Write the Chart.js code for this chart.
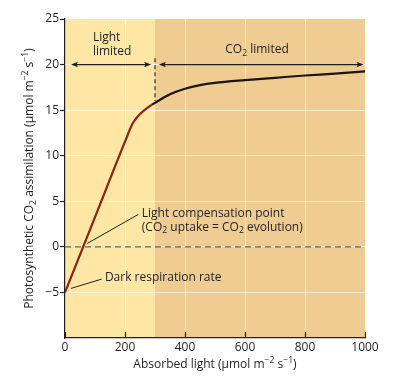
<!DOCTYPE html>
<html>
<head>
<meta charset="utf-8">
<script src="https://cdn.jsdelivr.net/npm/chart.js@4.4.0/dist/chart.umd.min.js"></script>
<style>
  html, body { margin: 0; padding: 0; background: #fff; }
</style>
</head>
<body>
<canvas id="lightChart" width="399" height="377"></canvas>
<script>
// light response curve
const lightLimitedX = [0, 100, 200, 225, 245, 265, 290];
const lightLimitedY = [-5, 3.27, 11.54, 13.5, 14.4, 15.0, 15.6];
const co2LimitedX = [290, 320, 350, 400, 450, 500, 600, 700, 800, 900, 1000];
const co2LimitedY = [15.6, 16.2, 16.75, 17.35, 17.75, 18.0, 18.3, 18.55, 18.8, 19.0, 19.25];
const zeroLineX = [0, 1000];
const zeroLineY = [0, 0];
const boundaryX = [300, 300];
const boundaryY = [20.7, 16.0];
const regionBounds = [0, 300, 1000];
const xTicks = [0, 200, 400, 600, 800, 1000];
const yTicks = [-10, -5, 0, 5, 10, 15, 20, 25];

const FONT = '"Open Sans", "DejaVu Sans", sans-serif';
const INK = '#231f20';

function pts(xs, ys) {
  return xs.map((v, i) => ({ x: v, y: ys[i] }));
}

// text with sub/superscript pieces, y is the vertical middle
function drawRich(ctx, parts, x, y, size, align) {
  const small = size * 0.72;
  let total = 0;
  for (const [t, m] of parts) {
    ctx.font = (m ? small : size) + 'px ' + FONT;
    total += ctx.measureText(t).width;
  }
  let cx = align === 'center' ? x - total / 2 : x;
  ctx.textBaseline = 'middle';
  ctx.textAlign = 'left';
  for (const [t, m] of parts) {
    ctx.font = (m ? small : size) + 'px ' + FONT;
    const dy = m === 'sub' ? size * 0.3 : m === 'sup' ? -size * 0.36 : 0;
    ctx.fillText(t, cx, y + dy);
    cx += ctx.measureText(t).width;
  }
}

function head(ctx, tipX, y, dir) {
  ctx.beginPath();
  ctx.moveTo(tipX, y);
  ctx.lineTo(tipX - dir * 7, y - 2.8);
  ctx.lineTo(tipX - dir * 5.5, y);
  ctx.lineTo(tipX - dir * 7, y + 2.8);
  ctx.closePath();
  ctx.fill();
}

function arrow(ctx, x1, x2, y) {
  ctx.beginPath();
  ctx.moveTo(x1 + 3, y);
  ctx.lineTo(x2 - 3, y);
  ctx.stroke();
  head(ctx, x1, y, -1);
  head(ctx, x2, y, 1);
}

function line(ctx, x1, y1, x2, y2) {
  ctx.beginPath();
  ctx.moveTo(x1, y1);
  ctx.lineTo(x2, y2);
  ctx.stroke();
}

const bands = {
  id: 'bands',
  beforeDraw(chart) {
    const { ctx, chartArea: a, scales: { x } } = chart;
    const colors = ['#fee6a4', '#efcc92'];
    ctx.save();
    for (let i = 0; i < regionBounds.length - 1; i++) {
      const l = x.getPixelForValue(regionBounds[i]);
      const r = x.getPixelForValue(regionBounds[i + 1]);
      ctx.fillStyle = colors[i];
      ctx.fillRect(l, a.top, r - l, a.bottom - a.top);
    }
    ctx.restore();
  }
};

const notes = {
  id: 'notes',
  afterDatasetsDraw(chart) {
    const { ctx, scales: { x, y } } = chart;
    const px = v => x.getPixelForValue(v);
    const py = v => y.getPixelForValue(v);
    ctx.save();
    ctx.strokeStyle = INK;
    ctx.fillStyle = INK;
    ctx.lineWidth = 1.2;
    arrow(ctx, px(20), px(287), py(20));
    arrow(ctx, px(313), px(995), py(20));

    drawRich(ctx, [['Light', '']], px(93), py(23.0), 12, 'left');
    drawRich(ctx, [['limited', '']], px(93), py(21.45), 12, 'left');
    drawRich(ctx, [['CO', ''], ['2', 'sub'], [' limited', '']], px(640), py(21.6), 12, 'center');

    ctx.lineWidth = 1;
    line(ctx, px(74), py(0.37), px(244), py(3.55));
    drawRich(ctx, [['Light compensation point', '']], px(256), py(3.66), 12, 'left');
    drawRich(ctx, [['(CO', ''], ['2', 'sub'], [' uptake = CO', ''], ['2', 'sub'], [' evolution)', '']],
      px(256), py(2.15), 12, 'left');

    line(ctx, px(20), py(-4.56), px(122), py(-3.54));
    drawRich(ctx, [['Dark respiration rate', '']], px(133), py(-3.36), 12, 'left');
    ctx.restore();
  },
  afterDraw(chart) {
    const { ctx, chartArea: a, scales: { x } } = chart;
    ctx.save();
    ctx.strokeStyle = INK;
    ctx.fillStyle = INK;
    ctx.lineWidth = 1.2;
    // x ticks point up into the plot
    for (const v of xTicks) {
      const p = Math.round(x.getPixelForValue(v)) + 0.5;
      line(ctx, p, a.bottom, p, a.bottom - 6);
    }
    // axis titles
    drawRich(ctx, [['Absorbed light (µmol m', ''], ['−2', 'sup'], [' s', ''], ['−1', 'sup'], [')', '']],
      (a.left + a.right) / 2, 365, 12, 'center');
    ctx.translate(30, (a.top + a.bottom) / 2);
    ctx.rotate(-Math.PI / 2);
    drawRich(ctx, [['Photosynthetic CO', ''], ['2', 'sub'], [' assimilation (µmol m', ''], ['−2', 'sup'],
      [' s', ''], ['−1', 'sup'], [')', '']], 0, 0, 12, 'center');
    ctx.restore();
  }
};

new Chart(document.getElementById('lightChart'), {
  type: 'line',
  data: {
    datasets: [
      {
        label: 'zero',
        data: pts(zeroLineX, zeroLineY),
        borderColor: '#6b5f55',
        borderWidth: 1.2,
        borderDash: [6, 4],
        pointRadius: 0
      },
      {
        label: 'boundary',
        data: pts(boundaryX, boundaryY),
        borderColor: INK,
        borderWidth: 1.1,
        borderDash: [4, 3],
        pointRadius: 0
      },
      {
        label: 'Light limited',
        data: pts(lightLimitedX, lightLimitedY),
        borderColor: '#8c2116',
        borderWidth: 2.2,
        pointRadius: 0,
        cubicInterpolationMode: 'monotone'
      },
      {
        label: 'CO2 limited',
        data: pts(co2LimitedX, co2LimitedY),
        borderColor: '#1c1410',
        borderWidth: 2.2,
        pointRadius: 0,
        cubicInterpolationMode: 'monotone'
      }
    ]
  },
  options: {
    responsive: false,
    animation: false,
    layout: { padding: { top: 19, right: 34, left: 0, bottom: 0 } },
    plugins: { legend: { display: false }, tooltip: { enabled: false } },
    scales: {
      x: {
        type: 'linear',
        min: 0,
        max: 1000,
        afterBuildTicks: s => { s.ticks = xTicks.map(v => ({ value: v })); },
        afterFit: s => { s.height = 39; },
        ticks: { font: { family: FONT, size: 12 }, color: INK, padding: 2, callback: v => String(v) },
        grid: {
          drawTicks: false,
          color: c => (c.tick && c.tick.value > 0 && c.tick.value < 1000) ? 'rgba(255,255,255,0.6)' : 'rgba(0,0,0,0)'
        },
        border: { color: INK, width: 1.2 }
      },
      y: {
        min: -10,
        max: 25,
        afterBuildTicks: s => { s.ticks = yTicks.map(v => ({ value: v })); },
        afterFit: s => { s.width = 65; },
        ticks: {
          font: { family: FONT, size: 12 },
          color: INK,
          padding: 1,
          callback: v => v === -10 ? '' : (v < 0 ? '−' + Math.abs(v) : String(v))
        },
        grid: {
          tickLength: 5,
          color: c => (c.tick && c.tick.value > -10 && c.tick.value < 25) ? 'rgba(255,255,255,0.6)' : 'rgba(0,0,0,0)',
          tickColor: c => (c.tick && c.tick.value === -10) ? 'rgba(0,0,0,0)' : INK,
          tickWidth: 1.2
        },
        border: { color: INK, width: 1.2 }
      }
    }
  },
  plugins: [bands, notes]
});
</script>
</body>
</html>
